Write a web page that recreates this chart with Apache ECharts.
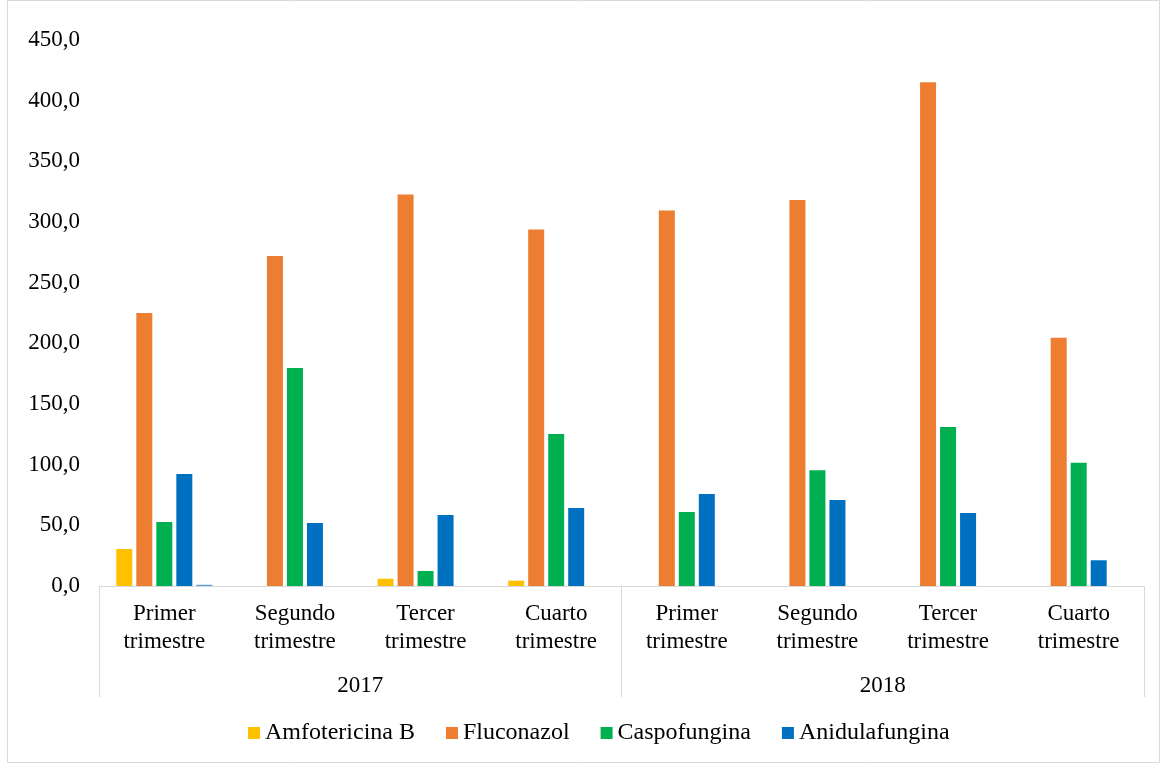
<!DOCTYPE html>
<html>
<head>
<meta charset="utf-8">
<script src="https://cdn.jsdelivr.net/npm/echarts@6/dist/echarts.min.js"></script>
<style>
html,body{margin:0;padding:0;background:#fff;}
#chart{width:1162px;height:764px;}
</style>
</head>
<body>
<div id="chart"></div>
<script>
const quarters = ['Primer\ntrimestre','Segundo\ntrimestre','Tercer\ntrimestre','Cuarto\ntrimestre','Primer\ntrimestre','Segundo\ntrimestre','Tercer\ntrimestre','Cuarto\ntrimestre'];
const years = ['2017','2018'];
const seriesNames = ['Amfotericina B','Fluconazol','Caspofungina','Anidulafungina'];
const amfotericina = [30.5, 0, 6.0, 4.4, 0, 0, 0, 0];
const fluconazol = [225.0, 272.0, 322.6, 293.8, 309.5, 318.2, 415.2, 204.5];
const caspofungina = [52.7, 179.6, 12.4, 125.2, 61.0, 95.5, 131.0, 101.6];
const anidulafungina = [92.3, 52.0, 58.5, 64.2, 75.8, 70.8, 60.1, 21.2];
const otro = [1.0, null, null, null, null, null, null, null];
const yTicks = {min: 0, max: 450, interval: 50};

const colors = ['#FFC000','#ED7D31','#00B050','#0070C0','#5B9BD5'];
const font = '"Liberation Serif", "DejaVu Serif", serif';
const fs = 23;
const chart = echarts.init(document.getElementById('chart'));
const mk = (name, data, color) => ({
  name, type: 'bar', data, barWidth: 16, barGap: '25%',
  itemStyle: {color}, xAxisIndex: 0
});
chart.setOption({
  animation: false,
  textStyle: {fontFamily: font},
  graphic: [{
    type: 'rect', shape: {x: 7.5, y: 0.5, width: 1152, height: 762},
    style: {fill: 'none', stroke: '#d9d9d9', lineWidth: 1}, silent: true
  }],
  grid: {left: 99, right: 18, top: 40, bottom: 178, containLabel: false},
  legend: {
    data: seriesNames, bottom: 14, left: 243, itemWidth: 12, itemHeight: 12,
    itemGap: 31, icon: 'rect',
    textStyle: {fontFamily: font, fontSize: 24, color: '#000'}
  },
  xAxis: [{
    type: 'category', data: quarters, position: 'bottom',
    axisLine: {show: true, lineStyle: {color: '#d9d9d9', width: 1}},
    axisTick: {show: false},
    axisLabel: {interval: 0, margin: 14, fontFamily: font, fontSize: fs, lineHeight: 28, color: '#000'}
  }, {
    type: 'category', data: years, position: 'bottom',
    axisLine: {show: false},
    axisTick: {show: true, length: 111, interval: 0, lineStyle: {color: '#d9d9d9', width: 1}},
    axisLabel: {interval: 0, margin: 86, fontFamily: font, fontSize: fs, lineHeight: 28, color: '#000'}
  }],
  yAxis: {
    type: 'value', min: yTicks.min, max: yTicks.max, interval: yTicks.interval,
    axisLine: {show: false}, axisTick: {show: false}, splitLine: {show: false},
    axisLabel: {margin: 19, fontFamily: font, fontSize: fs, color: '#000',
      formatter: v => v.toFixed(1).replace('.', ',')}
  },
  series: [
    mk(seriesNames[0], amfotericina, colors[0]),
    mk(seriesNames[1], fluconazol, colors[1]),
    mk(seriesNames[2], caspofungina, colors[2]),
    mk(seriesNames[3], anidulafungina, colors[3]),
    mk('', otro, colors[4])
  ]
});
</script>
</body>
</html>
